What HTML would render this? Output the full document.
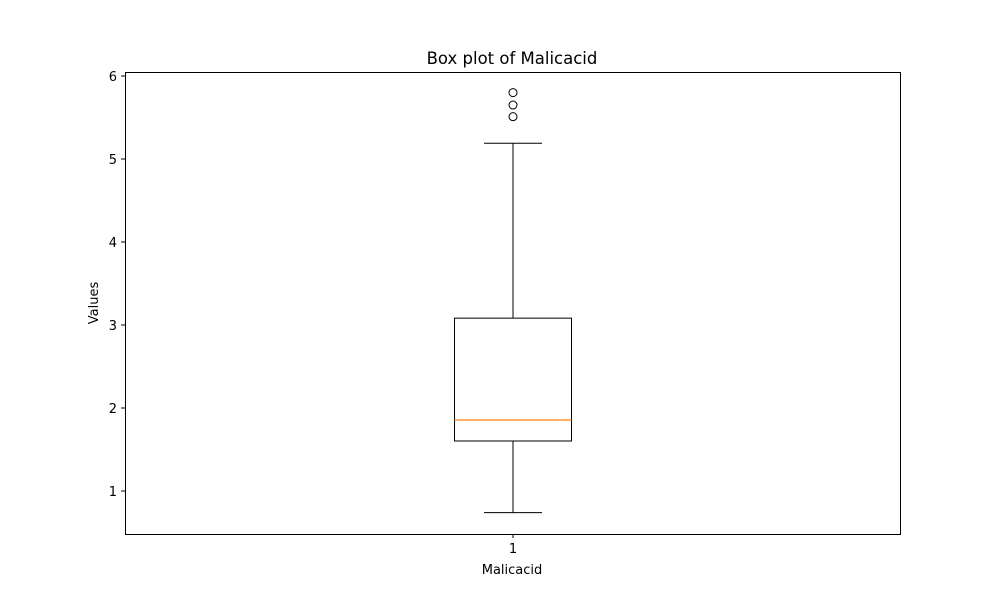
<!DOCTYPE html>
<html><head><meta charset="utf-8"><style>
body{margin:0;background:#fff;font-family:"Liberation Sans","DejaVu Sans",sans-serif;}
svg text{font-family:"DejaVu Sans","Liberation Sans",sans-serif;}
</style></head><body>
<svg id="chart" width="1000" height="600" xmlns="http://www.w3.org/2000/svg">
<rect width="1000" height="600" fill="#fff"/>
<text x="512" y="64" font-size="16.5" text-anchor="middle">Box plot of Malicacid</text>
<text x="512" y="574" font-size="13" text-anchor="middle">Malicacid</text>
<text transform="translate(98,303) rotate(-90)" font-size="13" text-anchor="middle">Values</text>
<g id="yticks"></g>
<g id="marks"></g>
<rect x="125.5" y="72.5" width="775" height="462" fill="none" stroke="#000" stroke-width="1"/>
<line x1="513" y1="534" x2="513" y2="538" stroke="#000"/>
<text x="513" y="553" font-size="13" text-anchor="middle">1</text>
</svg>
<script>
const categories=["1"];
const whiskerLow=[0.74];
const q1=[1.6025];
const median=[1.855];
const q3=[3.0825];
const whiskerHigh=[5.19];
const outliers=[5.51,5.65,5.80];
const yTicks=[1,2,3,4,5,6];
const NS="http://www.w3.org/2000/svg";
const y=v=>491-(v-1)*83;
function mk(tag,attrs,parent){const e=document.createElementNS(NS,tag);for(const k in attrs)e.setAttribute(k,attrs[k]);parent.appendChild(e);return e;}
const yt=document.getElementById('yticks');
yTicks.forEach(t=>{
 const l=mk('line',{x1:121,x2:125,y1:y(t),y2:y(t),stroke:'#000'},yt);
 
 
 const tx=mk('text',{x:117,y:y(t)+5,'font-size':13,'text-anchor':'end'},yt);
 tx.textContent=t;
 
 
});
const g=document.getElementById('marks');
const cx=513;
const w1=mk('line',{x1:cx,x2:cx,y1:y(q1[0]),y2:y(whiskerLow[0]),stroke:'#000'},g);


const w2=mk('line',{x1:cx,x2:cx,y1:y(q3[0]),y2:y(whiskerHigh[0]),stroke:'#000'},g);


const c1=mk('line',{x1:484,x2:542,y1:y(whiskerLow[0]),y2:y(whiskerLow[0]),stroke:'#000'},g);


const c2=mk('line',{x1:484,x2:542,y1:y(whiskerHigh[0]),y2:y(whiskerHigh[0]),stroke:'#000'},g);


const b=mk('rect',{x:454.5,y:y(q3[0]),width:117,height:y(q1[0])-y(q3[0]),fill:'none',stroke:'#000'},g);


const m=mk('line',{x1:454.5,x2:571.5,y1:y(median[0]),y2:y(median[0]),stroke:'#ff7f0e','stroke-width':1.3},g);


outliers.forEach(o=>{
 const c=mk('circle',{cx:cx,cy:y(o),r:4,fill:'none',stroke:'#000'},g);
 
 
});
</script>
</body></html>
